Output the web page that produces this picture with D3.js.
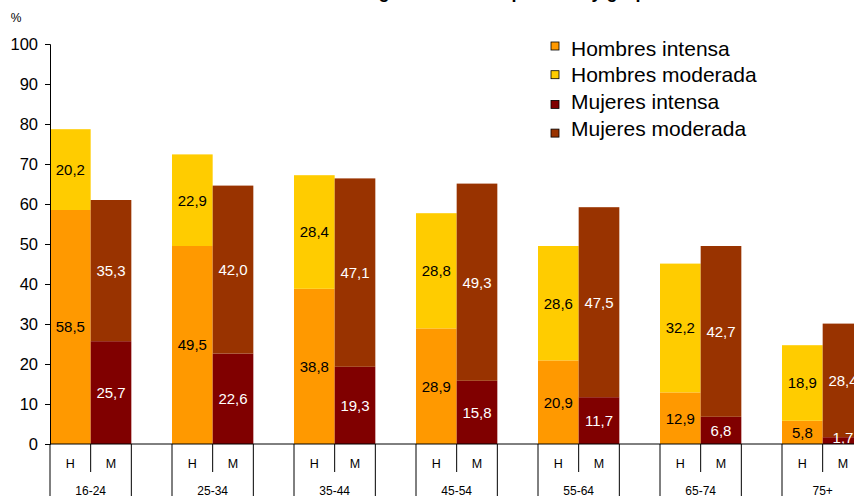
<!DOCTYPE html>
<html>
<head>
<meta charset="utf-8">
<script src="https://cdn.jsdelivr.net/npm/d3@7"></script>
<style>
  html, body { margin: 0; padding: 0; background: #fff; overflow: hidden; }
  svg { display: block; font-family: "Liberation Sans", Arial, sans-serif; }
</style>
</head>
<body>
<svg id="chart" width="854" height="496"></svg>
<script>
// ---- data ----
const groups = ["16-24", "25-34", "35-44", "45-54", "55-64", "65-74", "75+"];
const sexes = ["H", "M"];
const hombresIntensa   = [58.5, 49.5, 38.8, 28.9, 20.9, 12.9, 5.8];
const hombresModerada  = [20.2, 22.9, 28.4, 28.8, 28.6, 32.2, 18.9];
const mujeresIntensa   = [25.7, 22.6, 19.3, 15.8, 11.7, 6.8, 1.7];
const mujeresModerada  = [35.3, 42.0, 47.1, 49.3, 47.5, 42.7, 28.4];
const legendLabels = ["Hombres intensa", "Hombres moderada", "Mujeres intensa", "Mujeres moderada"];
const yTicks = [0, 10, 20, 30, 40, 50, 60, 70, 80, 90, 100];
const titleText = "Actividad física según intensidad por sexo y grupo de edad";

const colors = {
  hi: "#FF9900", hm: "#FFCC00", mi: "#800000", mm: "#993300"
};

const svg = d3.select("#chart");

// slots: per group H, M, blank
const slots = [];
groups.forEach((g, i) => { slots.push(g + "|H", g + "|M", g + "|_"); });

const x = d3.scaleBand().domain(slots).range([50, 50 + 122 * groups.length]).padding(0);
const y = d3.scaleLinear().domain([0, 100]).range([444, 44]);

// Title (cut off at top)
svg.append("text").attr("x", 476).attr("y", -2).attr("text-anchor", "middle")
  .attr("font-weight", "bold").attr("font-size", 18).text(titleText);

// Bars
const segs = [];
groups.forEach((g, i) => {
  segs.push({slot: g + "|H", y0: 0, y1: hombresIntensa[i], v: hombresIntensa[i], c: colors.hi, tc: "#000"});
  segs.push({slot: g + "|H", y0: hombresIntensa[i], y1: hombresIntensa[i] + hombresModerada[i], v: hombresModerada[i], c: colors.hm, tc: "#000"});
  segs.push({slot: g + "|M", y0: 0, y1: mujeresIntensa[i], v: mujeresIntensa[i], c: colors.mi, tc: "#fff"});
  segs.push({slot: g + "|M", y0: mujeresIntensa[i], y1: mujeresIntensa[i] + mujeresModerada[i], v: mujeresModerada[i], c: colors.mm, tc: "#fff"});
});

svg.append("g").selectAll("rect").data(segs).join("rect")
  .attr("x", d => x(d.slot))
  .attr("width", x.bandwidth())
  .attr("y", d => y(d.y1))
  .attr("height", d => y(d.y0) - y(d.y1))
  .attr("fill", d => d.c);

const fmt = v => v.toFixed(1).replace(".", ",");
svg.append("g").selectAll("text").data(segs).join("text")
  .attr("x", d => x(d.slot) + x.bandwidth() / 2)
  .attr("y", d => Math.min(y((d.y0 + d.y1) / 2), 438))
  .attr("dy", "0.36em")
  .attr("text-anchor", "middle")
  .attr("font-size", 15)
  .attr("fill", d => d.tc)
  .text(d => fmt(d.v));

// Y axis
const yAxis = d3.axisLeft(y).tickValues(yTicks).tickSize(5).tickPadding(7);
const gy = svg.append("g").attr("transform", "translate(50,0)").call(yAxis);
gy.select(".domain").attr("stroke", "#000");
gy.selectAll(".tick line").attr("stroke", "#000");
gy.selectAll(".tick text").attr("font-size", 16.5).attr("fill", "#000")
  .attr("font-family", "Liberation Sans, Arial, sans-serif");

svg.append("text").attr("x", 16).attr("y", 22).attr("text-anchor", "middle")
  .attr("font-size", 12).text("%");

// X axis baseline
svg.append("line").attr("x1", 50).attr("x2", 50 + 122 * groups.length)
  .attr("y1", y(0)).attr("y2", y(0)).attr("stroke", "#000");

// Category dividers and labels
const gx = svg.append("g");
groups.forEach((g, i) => {
  const xh = x(g + "|H"), xm = x(g + "|M"), xe = xm + x.bandwidth();
  gx.append("line").attr("x1", xh).attr("x2", xh).attr("y1", y(0)).attr("y2", 496).attr("stroke", "#000");
  gx.append("line").attr("x1", xm).attr("x2", xm).attr("y1", y(0)).attr("y2", 472).attr("stroke", "#000");
  gx.append("line").attr("x1", xe).attr("x2", xe).attr("y1", y(0)).attr("y2", 496).attr("stroke", "#000");
  sexes.forEach(s => {
    gx.append("text").attr("x", x(g + "|" + s) + x.bandwidth() / 2).attr("y", 468)
      .attr("text-anchor", "middle").attr("font-size", 12.5).text(s);
  });
  gx.append("text").attr("x", (xh + xe) / 2).attr("y", 495)
    .attr("text-anchor", "middle").attr("font-size", 12).text(g);
});

// Legend
const legColors = [colors.hi, colors.hm, colors.mi, colors.mm];
const legOffsets = [-6, -4, -1, 1];
const lg = svg.append("g");
legendLabels.forEach((l, i) => {
  const cy = 48 + i * 26.7;
  lg.append("rect").attr("x", 551).attr("y", cy + legOffsets[i]).attr("width", 8).attr("height", 8)
    .attr("fill", legColors[i]).attr("stroke", "#000").attr("stroke-width", 0.8);
  lg.append("text").attr("x", 571).attr("y", cy).attr("dy", "0.36em")
    .attr("font-size", 21).text(l);
});
</script>
</body>
</html>
